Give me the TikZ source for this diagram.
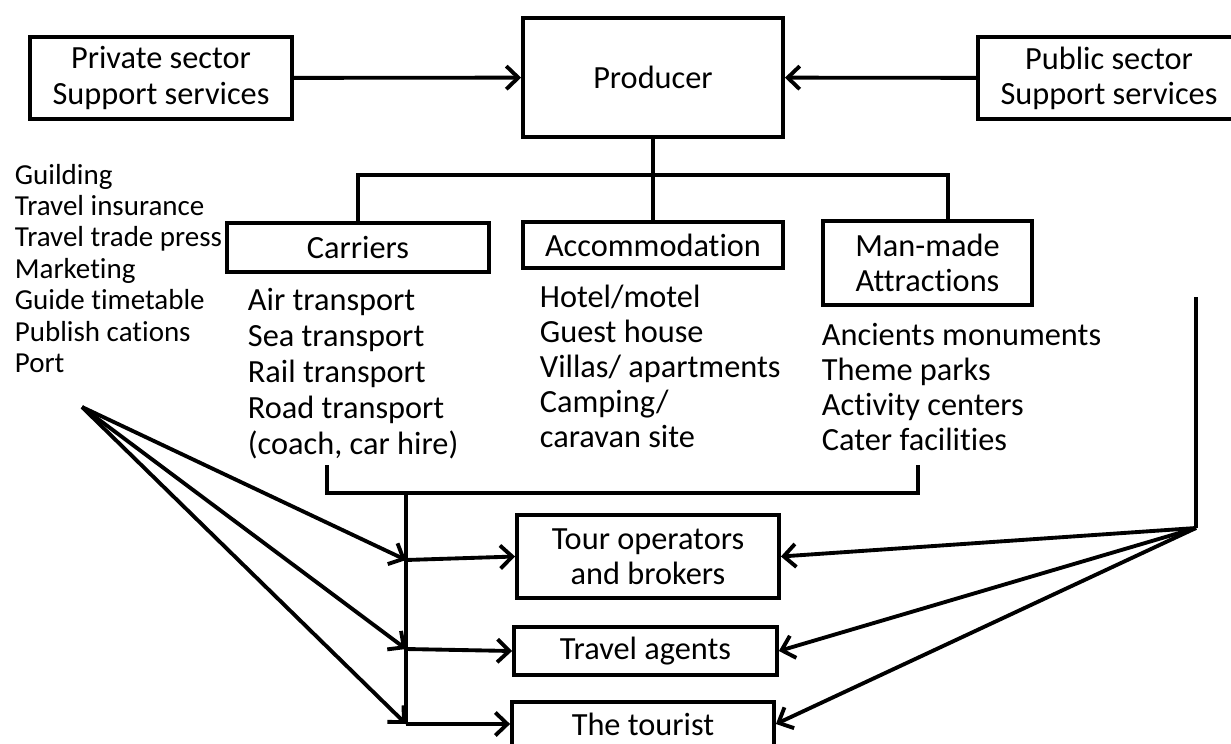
\documentclass[tikz,border=0pt]{standalone}
\usepackage{fontspec}
\setmainfont{Carlito}[Ligatures=NoCommon]
\usetikzlibrary{arrows.meta}
\begin{document}
\begin{tikzpicture}
[   x=0.02cm, y=-0.02cm,
    line width=2.2pt,
    >={Straight Barb[length=2.4mm,width=4.6mm]},
    every node/.style={font=\fontsize{18.4}{20}\selectfont},
    bnode/.style 2 args={draw=black,align=center,inner sep=0pt,minimum width=#1,minimum height=#2},
    item/.style={anchor=base west,inner sep=0pt},
    sitem/.style={item,font=\fontsize{16.5}{18}\selectfont},
]
    \useasboundingbox (0,0) rectangle (1231,744);
    % boxes
    \node[bnode={5.24cm}{1.64cm}] (priv) at (161,78) {Private sector\\Support services};
    \node[bnode={5.2cm}{2.38cm}] (prod) at (653,77.5) {Producer};
    \node[bnode={5.24cm}{1.64cm}] (pub) at (1109,78) {Public sector\\Support services};
    \node[bnode={5.24cm}{0.98cm}] (car) at (358,247.5) {Carriers};
    \node[bnode={5.2cm}{0.92cm}] (acc) at (653,245) {Accommodation};
    \node[bnode={4.18cm}{1.68cm}] (mm) at (927.5,263) {Man-made\\Attractions};
    \node[bnode={5.24cm}{1.66cm}] (tour) at (648,556.5) {Tour operators\\and brokers};
    \node[bnode={5.26cm}{0.96cm}] (agt) at (645.5,651) {Travel agents};
    \node[bnode={5.24cm}{0.88cm}] (tst) at (643,724) {The tourist};
    % lists
    \foreach \t [count=\i from 0] in {Guilding,Travel insurance,Travel trade press,Marketing,Guide timetable,Publish cations,Port}
    {   \node[sitem] (sv-\i) at (13,{184+31.4*\i}) {\t};
    }
    \foreach \t [count=\i from 0] in {Air transport,Sea transport,Rail transport,Road transport,{(coach, car hire)}}
    {   \node[item] (cr-\i) at (246,{310+36*\i}) {\t};
    }
    \foreach \t [count=\i from 0] in {Hotel/motel,Guest house,Villas/ apartments,Camping/,caravan site}
    {   \node[item] (ac-\i) at (538,{307+35*\i}) {\t};
    }
    \foreach \t [count=\i from 0] in {Ancients monuments,Theme parks,Activity centers,Cater facilities}
    {   \node[item] (at-\i) at (820,{345+35*\i}) {\t};
    }
    % top part
    \coordinate (mmdrop) at (948,175);
    \draw[->] (priv) -- (prod);
    \draw[->] (pub) -- (prod);
    \draw (prod) -- (acc);
    \draw (car.north) |- (mmdrop) -- (mmdrop |- mm.north);
    % bottom part
    \coordinate (brL) at (327,465);
    \coordinate (brR) at (918,465);
    \coordinate (bry) at (0,493);
    \coordinate (t0) at (406,493);
    \coordinate (t1) at (406,560);
    \coordinate (t2) at (406,649);
    \coordinate (t3) at (406,724);
    \coordinate (fanL) at (82,407);
    \coordinate (rtop) at (1196,297);
    \coordinate (fanR) at (1196,528);
    \draw (brL) -- (brL |- bry) -- (brR |- bry) -- (brR);
    \draw (t0) -- (t3);
    \draw[->] (t1) -- (tour.west);
    \draw[->] (t2) -- (agt.west);
    \draw[->] (t3) -- (tst.west);
    \foreach \t in {t1,t2,t3}
    {   \draw[->] (fanL) -- (\t);
    }
    \draw (rtop) -- (fanR);
    \foreach \b in {tour,agt,tst}
    {   \draw[->] (fanR) -- (\b.east);
    }
\end{tikzpicture}
\end{document}
